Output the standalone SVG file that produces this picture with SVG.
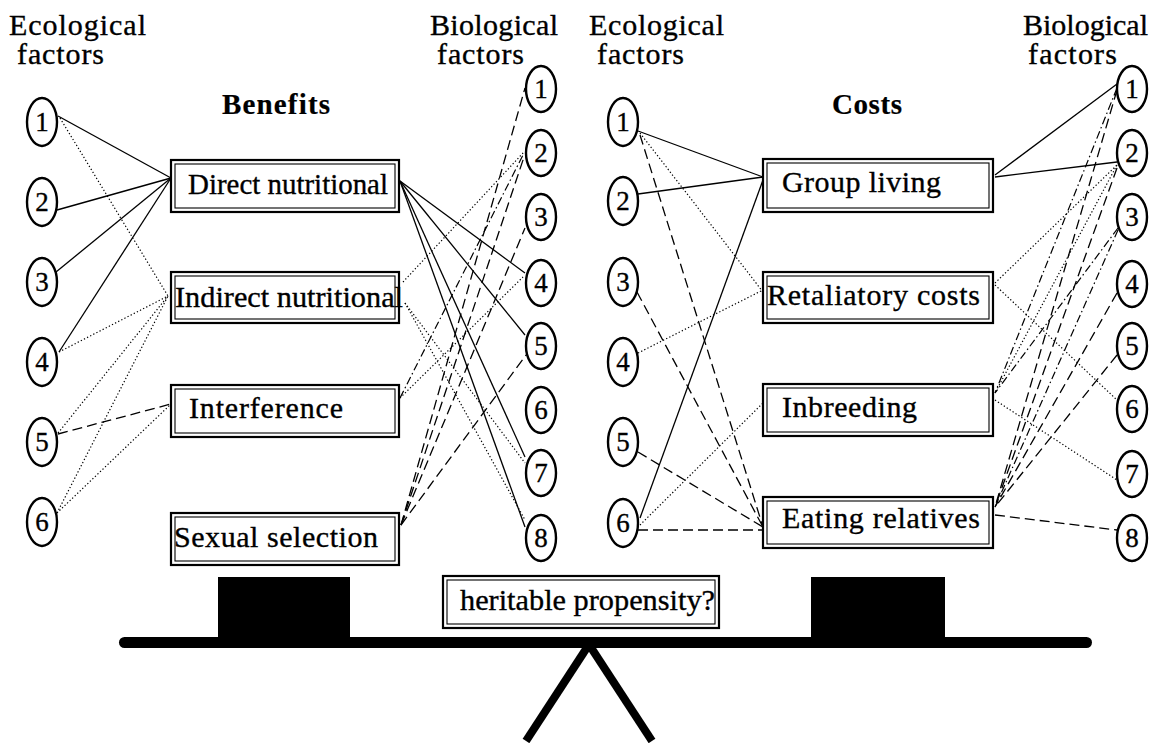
<svg xmlns="http://www.w3.org/2000/svg" width="1160" height="743" viewBox="0 0 1160 743">
<style>
  text { font-family: 'Liberation Serif', 'DejaVu Serif', serif; fill: #000; stroke: #000; stroke-width: 0.35; }
  .hd { font-size: 30px; }
  .ttl { font-size: 29px; font-weight: bold; stroke-width: 0.2; }
  .bx { font-size: 30px; }
  .num { font-size: 27px; text-anchor: middle; }
  .circ { fill: #fff; stroke: #000; stroke-width: 2.4; }
  .outer { fill: #fff; stroke: #000; stroke-width: 2.2; }
  .inner { fill: none; stroke: #000; stroke-width: 1.1; }
  .solid { stroke: #000; stroke-width: 1.3; fill: none; }
  .dot { stroke: #000; stroke-width: 1.2; stroke-dasharray: 1.3 2.2; fill: none; }
  .dash { stroke: #000; stroke-width: 1.3; stroke-dasharray: 10 5; fill: none; }
  .dd { stroke: #000; stroke-width: 1.2; stroke-dasharray: 8 3 1.5 3; fill: none; }
</style>
<rect x="0" y="0" width="1160" height="743" fill="#fff"/>

<!-- headings -->
<g id="headings">
  <text class="hd" x="9" y="35" textLength="137">Ecological</text>
  <text class="hd" x="17" y="64" textLength="87">factors</text>
  <text class="hd" x="430" y="35" textLength="128">Biological</text>
  <text class="hd" x="437" y="64" textLength="87">factors</text>
  <text class="hd" x="589" y="35" textLength="135">Ecological</text>
  <text class="hd" x="597" y="64" textLength="87">factors</text>
  <text class="hd" x="1023" y="35" textLength="125">Biological</text>
  <text class="hd" x="1028" y="64" textLength="89">factors</text>
  <text class="ttl" x="222" y="114" textLength="108">Benefits</text>
  <text class="ttl" x="832" y="114" textLength="70">Costs</text>
</g>

<!-- connectors -->
<g id="connectors">
  <!-- left: ecological to benefits -->
  <line class="solid" x1="58" y1="116" x2="171" y2="178"/>
  <line class="dot" x1="60" y1="118" x2="168" y2="296"/>
  <line class="solid" x1="57" y1="210" x2="171" y2="178"/>
  <line class="solid" x1="56" y1="272" x2="171" y2="178"/>
  <line class="solid" x1="59" y1="352" x2="171" y2="178"/>
  <line class="dot" x1="59" y1="352" x2="168" y2="296"/>
  <line class="dot" x1="58" y1="433" x2="168" y2="296"/>
  <line class="dash" x1="58" y1="434" x2="171" y2="404"/>
  <line class="dot" x1="57" y1="513" x2="168" y2="296"/>
  <line class="dot" x1="57" y1="513" x2="171" y2="404"/>
  <!-- left: benefits to biological -->
  <line class="solid" x1="400" y1="181" x2="525" y2="273"/>
  <line class="solid" x1="400" y1="181" x2="525" y2="335"/>
  <line class="solid" x1="400" y1="181" x2="525" y2="457"/>
  <line class="solid" x1="400" y1="181" x2="525" y2="527"/>
  <line class="dot" x1="403" y1="282" x2="524" y2="152"/>
  <line class="dot" x1="405" y1="303" x2="525" y2="463"/>
  <line class="dot" x1="405" y1="303" x2="525" y2="520"/>
  <line class="dot" x1="400" y1="398" x2="523" y2="277"/>
  <line class="dd" x1="400" y1="398" x2="523" y2="155"/>
  <line class="dash" x1="401" y1="525" x2="525" y2="88"/>
  <line class="dash" x1="401" y1="525" x2="524" y2="157"/>
  <line class="dash" x1="401" y1="525" x2="525" y2="228"/>
  <line class="dash" x1="401" y1="525" x2="526" y2="355"/>
  <!-- right: ecological to costs -->
  <line class="solid" x1="638" y1="131" x2="763" y2="177"/>
  <line class="dot" x1="640" y1="133" x2="763" y2="292"/>
  <line class="dash" x1="640" y1="135" x2="763" y2="527"/>
  <line class="solid" x1="638" y1="194" x2="763" y2="177"/>
  <line class="dash" x1="637" y1="292" x2="763" y2="527"/>
  <line class="dot" x1="638" y1="353" x2="763" y2="290"/>
  <line class="dash" x1="638" y1="452" x2="763" y2="527"/>
  <line class="solid" x1="640" y1="518" x2="763" y2="180"/>
  <line class="dot" x1="640" y1="525" x2="763" y2="403"/>
  <line class="dash" x1="638" y1="530" x2="763" y2="530"/>
  <!-- right: costs to biological -->
  <line class="solid" x1="995" y1="175" x2="1117" y2="84"/>
  <line class="solid" x1="995" y1="177" x2="1117" y2="162"/>
  <line class="dot" x1="995" y1="283" x2="1117" y2="165"/>
  <line class="dot" x1="995" y1="285" x2="1117" y2="400"/>
  <line class="dot" x1="995" y1="400" x2="1117" y2="480"/>
  <line class="dd" x1="1117" y1="88" x2="995" y2="393"/>
  <line class="dot" x1="1117" y1="165" x2="995" y2="393"/>
  <line class="dd" x1="1118" y1="228" x2="995" y2="393"/>
  <line class="dash" x1="1117" y1="90" x2="995" y2="507"/>
  <line class="dash" x1="1117" y1="168" x2="995" y2="507"/>
  <line class="dd" x1="1118" y1="230" x2="995" y2="507"/>
  <line class="dash" x1="1117" y1="293" x2="995" y2="507"/>
  <line class="dash" x1="1117" y1="355" x2="995" y2="507"/>
  <line class="dash" x1="995" y1="515" x2="1117" y2="530"/>
</g>

<!-- left ecological circles -->
<g id="eco-L1"><ellipse class="circ" cx="42" cy="122" rx="15" ry="24"/><text class="num" x="42" y="131">1</text></g>
<g id="eco-L2"><ellipse class="circ" cx="42" cy="202" rx="15" ry="24"/><text class="num" x="42" y="211">2</text></g>
<g id="eco-L3"><ellipse class="circ" cx="42" cy="282" rx="15" ry="24"/><text class="num" x="42" y="291">3</text></g>
<g id="eco-L4"><ellipse class="circ" cx="42" cy="362" rx="15" ry="24"/><text class="num" x="42" y="371">4</text></g>
<g id="eco-L5"><ellipse class="circ" cx="42" cy="442" rx="15" ry="24"/><text class="num" x="42" y="451">5</text></g>
<g id="eco-L6"><ellipse class="circ" cx="42" cy="522" rx="15" ry="24"/><text class="num" x="42" y="531">6</text></g>

<!-- left biological circles -->
<g id="bio-L1"><ellipse class="circ" cx="541" cy="89" rx="15" ry="23"/><text class="num" x="541" y="98">1</text></g>
<g id="bio-L2"><ellipse class="circ" cx="541" cy="153" rx="15" ry="23"/><text class="num" x="541" y="162">2</text></g>
<g id="bio-L3"><ellipse class="circ" cx="541" cy="217" rx="15" ry="23"/><text class="num" x="541" y="226">3</text></g>
<g id="bio-L4"><ellipse class="circ" cx="541" cy="283" rx="15" ry="23"/><text class="num" x="541" y="292">4</text></g>
<g id="bio-L5"><ellipse class="circ" cx="541" cy="346" rx="15" ry="23"/><text class="num" x="541" y="355">5</text></g>
<g id="bio-L6"><ellipse class="circ" cx="541" cy="410" rx="15" ry="23"/><text class="num" x="541" y="419">6</text></g>
<g id="bio-L7"><ellipse class="circ" cx="541" cy="473" rx="15" ry="23"/><text class="num" x="541" y="482">7</text></g>
<g id="bio-L8"><ellipse class="circ" cx="541" cy="538" rx="15" ry="23"/><text class="num" x="541" y="547">8</text></g>

<!-- right ecological circles -->
<g id="eco-R1"><ellipse class="circ" cx="623" cy="122" rx="15" ry="24"/><text class="num" x="623" y="131">1</text></g>
<g id="eco-R2"><ellipse class="circ" cx="623" cy="201" rx="15" ry="24"/><text class="num" x="623" y="210">2</text></g>
<g id="eco-R3"><ellipse class="circ" cx="623" cy="282" rx="15" ry="24"/><text class="num" x="623" y="291">3</text></g>
<g id="eco-R4"><ellipse class="circ" cx="623" cy="362" rx="15" ry="24"/><text class="num" x="623" y="371">4</text></g>
<g id="eco-R5"><ellipse class="circ" cx="623" cy="442" rx="15" ry="24"/><text class="num" x="623" y="451">5</text></g>
<g id="eco-R6"><ellipse class="circ" cx="623" cy="523" rx="15" ry="24"/><text class="num" x="623" y="532">6</text></g>

<!-- right biological circles -->
<g id="bio-R1"><ellipse class="circ" cx="1132" cy="89" rx="15" ry="23"/><text class="num" x="1132" y="98">1</text></g>
<g id="bio-R2"><ellipse class="circ" cx="1132" cy="153" rx="15" ry="23"/><text class="num" x="1132" y="162">2</text></g>
<g id="bio-R3"><ellipse class="circ" cx="1132" cy="217" rx="15" ry="23"/><text class="num" x="1132" y="226">3</text></g>
<g id="bio-R4"><ellipse class="circ" cx="1132" cy="284" rx="15" ry="23"/><text class="num" x="1132" y="293">4</text></g>
<g id="bio-R5"><ellipse class="circ" cx="1132" cy="346" rx="15" ry="23"/><text class="num" x="1132" y="355">5</text></g>
<g id="bio-R6"><ellipse class="circ" cx="1132" cy="409" rx="15" ry="23"/><text class="num" x="1132" y="418">6</text></g>
<g id="bio-R7"><ellipse class="circ" cx="1132" cy="474" rx="15" ry="23"/><text class="num" x="1132" y="483">7</text></g>
<g id="bio-R8"><ellipse class="circ" cx="1132" cy="538" rx="15" ry="23"/><text class="num" x="1132" y="547">8</text></g>

<!-- benefit boxes -->
<g id="box-direct"><rect class="outer" x="171" y="160" width="228" height="52"/><rect class="inner" x="175" y="164" width="220" height="44"/><text class="bx" x="188" y="194" textLength="200" lengthAdjust="spacingAndGlyphs">Direct nutritional</text></g>
<g id="box-indirect"><rect class="outer" x="171" y="272" width="228" height="51"/><rect class="inner" x="175" y="276" width="220" height="43"/><text class="bx" x="175" y="307" textLength="228" lengthAdjust="spacingAndGlyphs">Indirect nutritional</text></g>
<g id="box-interference"><rect class="outer" x="171" y="385" width="228" height="52"/><rect class="inner" x="175" y="389" width="220" height="44"/><text class="bx" x="189" y="418" textLength="154">Interference</text></g>
<g id="box-sexual"><rect class="outer" x="171" y="513" width="228" height="52"/><rect class="inner" x="175" y="517" width="220" height="44"/><text class="bx" x="174" y="547" textLength="204">Sexual selection</text></g>

<!-- cost boxes -->
<g id="box-group"><rect class="outer" x="763" y="159" width="230" height="53"/><rect class="inner" x="767" y="163" width="222" height="45"/><text class="bx" x="782" y="192" textLength="159">Group living</text></g>
<g id="box-retaliatory"><rect class="outer" x="763" y="272" width="230" height="51"/><rect class="inner" x="767" y="276" width="222" height="43"/><text class="bx" x="767" y="305" textLength="213">Retaliatory costs</text></g>
<g id="box-inbreeding"><rect class="outer" x="763" y="384" width="230" height="52"/><rect class="inner" x="767" y="388" width="222" height="44"/><text class="bx" x="782" y="417" textLength="135">Inbreeding</text></g>
<g id="box-eating"><rect class="outer" x="763" y="497" width="230" height="51"/><rect class="inner" x="767" y="501" width="222" height="43"/><text class="bx" x="782" y="528" textLength="198">Eating relatives</text></g>

<!-- balance -->
<g id="balance">
  <rect x="218" y="577" width="132" height="62" fill="#000"/>
  <rect x="811" y="577" width="134" height="62" fill="#000"/>
  <rect x="119" y="637" width="973" height="11" rx="5.5" fill="#000"/>
  <line x1="588" y1="646" x2="526" y2="741" stroke="#000" stroke-width="8"/>
  <line x1="590" y1="646" x2="652" y2="741" stroke="#000" stroke-width="8"/>
</g>
<g id="box-heritable"><rect class="outer" x="443" y="576" width="276" height="52"/><rect class="inner" x="447" y="580" width="268" height="44"/><text class="bx" x="460" y="610" textLength="255" lengthAdjust="spacingAndGlyphs">heritable propensity?</text></g>
</svg>
